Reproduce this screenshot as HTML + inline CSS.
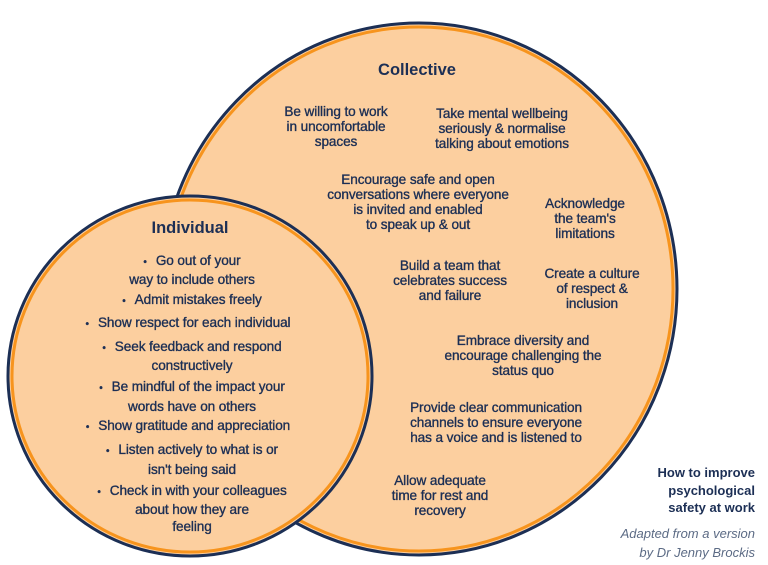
<!DOCTYPE html>
<html><head><meta charset="utf-8"><style>
body{margin:0;width:768px;height:565px;background:#fff;position:relative;overflow:hidden;font-family:"Liberation Sans",sans-serif;color:#1c2f55}
.t{position:absolute;transform:translateX(-50%);text-align:center;font-size:13.6px;line-height:15px;white-space:nowrap;-webkit-text-stroke:0.35px #1c2f55;letter-spacing:-0.1px}
.h{position:absolute;transform:translateX(-50%);font-weight:bold;font-size:16.5px;white-space:nowrap}
.b::before{content:"•";margin-right:9px;font-size:10px}
</style></head><body>
<svg width="768" height="565" style="position:absolute;left:0;top:0">
<ellipse cx="419" cy="289" rx="258" ry="266" fill="#fccf9f" stroke="#1c2f55" stroke-width="3"/>
<ellipse cx="419" cy="289" rx="254" ry="262" fill="none" stroke="#f7941d" stroke-width="3"/>
<ellipse cx="190" cy="376" rx="182" ry="180" fill="#fccf9f" stroke="#1c2f55" stroke-width="3"/>
<ellipse cx="190" cy="376" rx="178" ry="176" fill="none" stroke="#f7941d" stroke-width="3"/>
</svg>
<div class="h" style="left:417px;top:61px">Collective</div>
<div class="t" style="left:336px;top:104px">Be willing to work<br>in uncomfortable<br>spaces</div>
<div class="t" style="left:502px;top:106px">Take mental wellbeing<br>seriously &amp; normalise<br>talking about emotions</div>
<div class="t" style="left:418px;top:172px">Encourage safe and open<br>conversations where everyone<br>is invited and enabled<br>to speak up &amp; out</div>
<div class="t" style="left:585px;top:196px">Acknowledge<br>the team's<br>limitations</div>
<div class="t" style="left:450px;top:258px">Build a team that<br>celebrates success<br>and failure</div>
<div class="t" style="left:592px;top:266px">Create a culture<br>of respect &amp;<br>inclusion</div>
<div class="t" style="left:523px;top:333px">Embrace diversity and<br>encourage challenging the<br>status quo</div>
<div class="t" style="left:496px;top:400px">Provide clear communication<br>channels to ensure everyone<br>has a voice and is listened to</div>
<div class="t" style="left:440px;top:473px">Allow adequate<br>time for rest and<br>recovery</div>
<div class="h" style="left:190px;top:219px">Individual</div>
<div class="t" style="left:192px;top:252px;line-height:17px"><span class="b">Go out of your</span><br>way to include others</div>
<div class="t" style="left:192px;top:292px"><span class="b">Admit mistakes freely</span></div>
<div class="t" style="left:188px;top:315px"><span class="b">Show respect for each individual</span></div>
<div class="t" style="left:192px;top:338px;line-height:17px"><span class="b">Seek feedback and respond</span><br>constructively</div>
<div class="t" style="left:192px;top:378px;line-height:18px"><span class="b">Be mindful of the impact your</span><br>words have on others</div>
<div class="t" style="left:188px;top:418px"><span class="b">Show gratitude and appreciation</span></div>
<div class="t" style="left:192px;top:441px;line-height:18px"><span class="b">Listen actively to what is or</span><br>isn't being said</div>
<div class="t" style="left:192px;top:482px;line-height:17px"><span class="b">Check in with your colleagues</span><br>about how they are<br>feeling</div>
<div style="position:absolute;right:13px;top:464px;text-align:right;font-weight:bold;font-size:13px;line-height:17.5px">How to improve<br>psychological<br>safety at work</div>
<div style="position:absolute;right:13px;top:524px;text-align:right;font-style:italic;font-size:13px;line-height:19px;color:#5c6b85">Adapted from a version<br>by Dr Jenny Brockis</div>
</body></html>
